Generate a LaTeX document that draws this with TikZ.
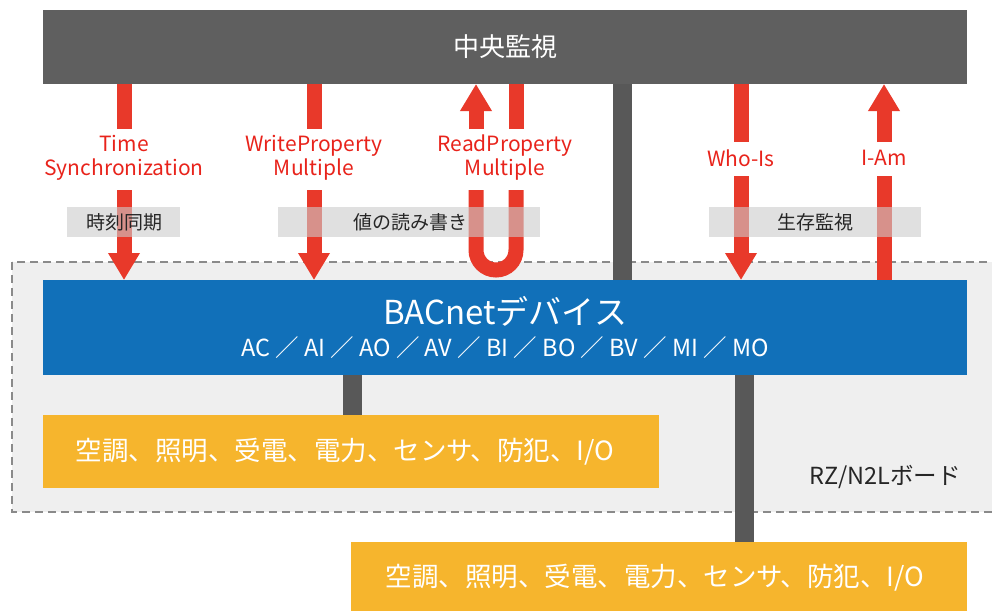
\documentclass[tikz,border=0pt]{standalone}
\usepackage{fontspec}
\setmainfont{Noto Sans CJK JP}
\usetikzlibrary{arrows.meta}
\definecolor{topgray}{HTML}{5F5F5F}
\definecolor{bargray}{HTML}{585858}
\definecolor{arrred}{HTML}{E8392A}
\definecolor{txtred}{HTML}{E8231B}
\definecolor{bacblue}{HTML}{1170B9}
\definecolor{orng}{HTML}{F6B52D}
\definecolor{regionfill}{HTML}{EFEFEF}
\definecolor{regionline}{HTML}{8A8A8A}
\definecolor{lblfill}{HTML}{CCCCCC}
\tikzset{
  redbar/.style={draw=arrred, line width=15pt},
  redhead/.style={redbar, -{Triangle[width=30pt,length=27pt]}},
  graybar/.style={draw=bargray, line width=19pt},
  redlbl/.style={text=txtred, font=\fontsize{21}{24}\selectfont, align=center, inner sep=0pt},
  tagbox/.style={fill=lblfill, fill opacity=0.6, draw=none},
  tagtext/.style={text=black!85, font=\fontsize{19}{22}\selectfont, inner sep=0pt},
  devtext/.style={text=white, font=\fontsize{26.5}{30}\selectfont, inner sep=0pt},
}
\begin{document}
\begin{tikzpicture}[x=1pt,y=-1pt]
\useasboundingbox (0,0) rectangle (992,610);
% board region
\draw[fill=regionfill, draw=regionline, line width=1.2pt, dash pattern=on 8pt off 5pt] (12,262) rectangle (1010,512);
\node[text=black!85, font=\fontsize{23.5}{26}\selectfont, inner sep=0pt] (board) at (885,477) {RZ/N2Lボード};
% top box
\node[fill=topgray, minimum width=924pt, minimum height=74pt, inner sep=0pt] (top) at (505,47) {};
\node[text=white, font=\fontsize{26}{28}\selectfont] (toptext) at (top.center) {中央監視};
% BACnet box
\node[fill=bacblue, minimum width=924pt, minimum height=95pt, inner sep=0pt] (bac) at (505,327.5) {};
\node[text=white, font=\fontsize{33}{36}\selectfont, inner sep=0pt] (bactitle) at (505,311) {BACnetデバイス};
\node[text=white, font=\fontsize{23.5}{26}\selectfont, inner sep=0pt] (bacobj) at (505,348) {AC ／ AI ／ AO ／ AV ／ BI ／ BO ／ BV ／ MI ／ MO};
% gray connectors
\draw[graybar] (622,84) -- (622,280);
% orange boxes
\node[fill=orng, minimum width=616pt, minimum height=73pt, inner sep=0pt] (o1) at (351,451.5) {};
\node[devtext] (o1t) at (345,452) {空調、照明、受電、電力、センサ、防犯、I/O};
\node[fill=orng, minimum width=616pt, minimum height=76pt, inner sep=0pt] (o2) at (659,580) {};
\node[devtext] (o2t) at (655,578) {空調、照明、受電、電力、センサ、防犯、I/O};
\draw[graybar] (352,375) -- (352,415);
\draw[graybar] (744,375) -- (744,542);
% red labels
\node[redlbl] (ts) at (124,158) {Time\\Synchronization};
\node[redlbl] (wp) at (314,158) {WriteProperty\\Multiple};
\node[redlbl] (rp) at (505,158) {ReadProperty\\Multiple};
\node[redlbl] (wi) at (741,158) {Who-Is};
\node[redlbl] (ia) at (884,158) {I-Am};
% Time sync arrow
\draw[redbar] (124,84) -- (124,129);
\draw[redhead] (124,190) -- (124,280);
% WriteProperty arrow
\draw[redbar] (314,84) -- (314,129);
\draw[redhead] (314,190) -- (314,280);
% ReadProperty
\draw[redhead] (476,129) -- (476,84);
\draw[redbar] (516,84) -- (516,129);
\draw[redbar] (476,190) -- (476,250) arc[start angle=180, end angle=0, radius=20] -- (516,190);
% Who-Is
\draw[redbar] (741,84) -- (741,142);
\draw[redhead] (741,176) -- (741,280);
% I-Am
\draw[redhead] (884,142) -- (884,84);
\draw[redbar] (884,176) -- (884,280);
% tag boxes
\fill[tagbox] (67,207) rectangle (180,237);
\node[tagtext] (t1) at (124,222) {時刻同期};
\fill[tagbox] (278,207) rectangle (540,237);
\node[tagtext] (t2) at (410,222) {値の読み書き};
\fill[tagbox] (709,207) rectangle (921,237);
\node[tagtext] (t3) at (815,222) {生存監視};
\end{tikzpicture}
\end{document}
